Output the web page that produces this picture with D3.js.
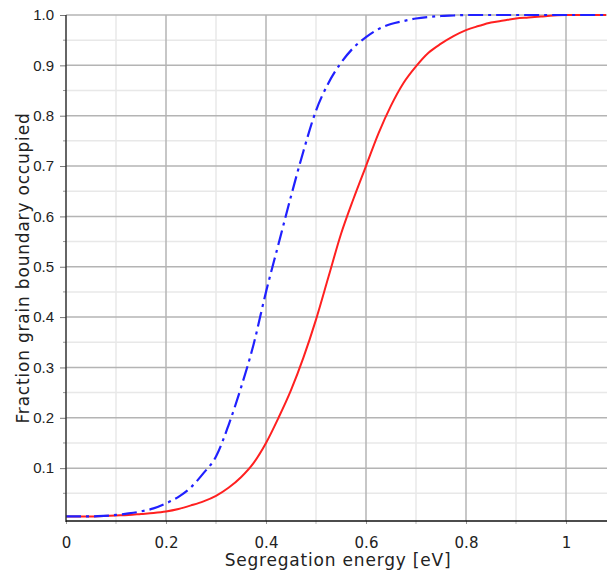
<!DOCTYPE html>
<html>
<head>
<meta charset="utf-8">
<script src="https://cdn.jsdelivr.net/npm/d3@7"></script>
<style>
  body { margin: 0; background: #fff; }
  svg { display: block; }
</style>
</head>
<body>
<svg id="chart" width="607" height="572"></svg>
<script>
// segregation energy (eV)
var energy = [0, 0.025, 0.05, 0.075, 0.1, 0.125, 0.15, 0.175, 0.2, 0.225, 0.25, 0.275, 0.3, 0.325,
  0.35, 0.375, 0.4, 0.425, 0.45, 0.475, 0.5, 0.525, 0.55, 0.575, 0.6, 0.625, 0.65, 0.675, 0.7,
  0.725, 0.75, 0.775, 0.8, 0.825, 0.85, 0.875, 0.9, 0.925, 0.95, 0.975, 1.0, 1.08];

// solid red curve
var redFrac = [0.004, 0.004, 0.004, 0.005, 0.006, 0.007, 0.009, 0.011, 0.014, 0.019, 0.026, 0.034,
  0.045, 0.061, 0.082, 0.11, 0.15, 0.20, 0.255, 0.32, 0.395, 0.48, 0.565, 0.635, 0.70, 0.765, 0.82,
  0.865, 0.898, 0.925, 0.943, 0.958, 0.97, 0.978, 0.985, 0.989, 0.993, 0.995, 0.997, 0.999, 1.0, 1.0];

// dash-dot blue curve
var blueFrac = [0.004, 0.004, 0.004, 0.005, 0.007, 0.010, 0.014, 0.020, 0.030, 0.043, 0.062, 0.09,
  0.123, 0.185, 0.26, 0.345, 0.45, 0.545, 0.64, 0.73, 0.81, 0.865, 0.905, 0.935, 0.956, 0.972, 0.982,
  0.988, 0.993, 0.996, 0.998, 0.999, 1.0, 1.0, 1.0, 1.0, 1.0, 1.0, 1.0, 1.0, 1.0, 1.0];

var xMajor = [0, 0.2, 0.4, 0.6, 0.8, 1.0];
var xMinor = [0.1, 0.3, 0.5, 0.7, 0.9];
var xLabels = ["0", "0.2", "0.4", "0.6", "0.8", "1"];
var yMajor = [0.1, 0.2, 0.3, 0.4, 0.5, 0.6, 0.7, 0.8, 0.9, 1.0];
var yMinor = [0.05, 0.15, 0.25, 0.35, 0.45, 0.55, 0.65, 0.75, 0.85, 0.95];

var svg = d3.select("#chart");
var pLeft = 66, pRight = 607, pTop = 15, pBottom = 521;

var x = d3.scaleLinear().domain([0, 1.082]).range([pLeft, pRight]);
var y = d3.scaleLinear().domain([-0.005, 1.0]).range([pBottom, pTop]);

// grid
svg.append("g").selectAll("line").data(xMinor).enter().append("line")
  .attr("x1", d => x(d)).attr("x2", d => x(d)).attr("y1", pTop).attr("y2", pBottom)
  .attr("stroke", "#e8e8e8").attr("stroke-width", 1.5);
svg.append("g").selectAll("line").data(yMinor).enter().append("line")
  .attr("x1", pLeft).attr("x2", pRight).attr("y1", d => y(d)).attr("y2", d => y(d))
  .attr("stroke", "#e8e8e8").attr("stroke-width", 1.5);
svg.append("g").selectAll("line").data(xMajor.slice(1)).enter().append("line")
  .attr("x1", d => x(d)).attr("x2", d => x(d)).attr("y1", pTop).attr("y2", pBottom)
  .attr("stroke", "#b4b4b4").attr("stroke-width", 1.5);
svg.append("g").selectAll("line").data(yMajor).enter().append("line")
  .attr("x1", pLeft).attr("x2", pRight).attr("y1", d => y(d)).attr("y2", d => y(d))
  .attr("stroke", "#b4b4b4").attr("stroke-width", 1.5);

// curves
svg.append("clipPath").attr("id", "clip").append("rect")
  .attr("x", pLeft).attr("y", pTop - 3).attr("width", pRight - pLeft).attr("height", pBottom - pTop + 3);

var line = d3.line().x(d => x(d[0])).y(d => y(d[1])).curve(d3.curveMonotoneX);

svg.append("path")
  .datum(d3.zip(energy, redFrac))
  .attr("clip-path", "url(#clip)")
  .attr("d", line)
  .attr("fill", "none").attr("stroke", "#ff2020").attr("stroke-width", 2);

svg.append("path")
  .datum(d3.zip(energy, blueFrac))
  .attr("clip-path", "url(#clip)")
  .attr("d", line)
  .attr("fill", "none").attr("stroke", "#2020ff").attr("stroke-width", 2.2)
  .attr("stroke-dasharray", "15,5,3,5");

// axes
var yAxis = d3.axisLeft(y).tickValues(yMajor).tickSize(6).tickPadding(6)
  .tickFormat(d3.format(".1f"));
var gy = svg.append("g").attr("transform", "translate(" + pLeft + ",0)").call(yAxis);
gy.select(".domain").remove();
gy.selectAll(".tick line").attr("stroke", "#777");
gy.selectAll("text").attr("font-family", "'Liberation Sans', Arial, sans-serif")
  .attr("font-size", "15px").attr("fill", "#222");
svg.append("g").selectAll("line").data(yMinor).enter().append("line")
  .attr("x1", pLeft - 3).attr("x2", pLeft).attr("y1", d => y(d)).attr("y2", d => y(d))
  .attr("stroke", "#999");

var xAxis = d3.axisBottom(x).tickValues(xMajor).tickSize(3).tickPadding(13)
  .tickFormat((d, i) => xLabels[i]);
var gx = svg.append("g").attr("transform", "translate(0," + pBottom + ")").call(xAxis);
gx.select(".domain").remove();
gx.selectAll(".tick line").attr("stroke", "#999");
gx.selectAll("text").attr("font-family", "'DejaVu Sans', sans-serif")
  .attr("font-size", "15px").attr("fill", "#222");
svg.append("g").selectAll("line").data(xMinor).enter().append("line")
  .attr("x1", d => x(d)).attr("x2", d => x(d)).attr("y1", pBottom).attr("y2", pBottom + 3)
  .attr("stroke", "#bbb");

svg.append("line").attr("x1", pLeft).attr("x2", pLeft).attr("y1", pTop).attr("y2", pBottom + 1)
  .attr("stroke", "#333").attr("stroke-width", 1.5);
svg.append("line").attr("x1", pLeft).attr("x2", pRight).attr("y1", pBottom).attr("y2", pBottom)
  .attr("stroke", "#111").attr("stroke-width", 1.5);

// titles
svg.append("text")
  .attr("x", 338).attr("y", 566)
  .attr("text-anchor", "middle")
  .attr("font-family", "'DejaVu Sans', sans-serif").attr("font-size", "17px")
  .attr("letter-spacing", "0.8px").attr("fill", "#222")
  .text("Segregation energy [eV]");

svg.append("text")
  .attr("transform", "translate(29," + ((pTop + pBottom) / 2) + ") rotate(-90)")
  .attr("text-anchor", "middle")
  .attr("font-family", "'DejaVu Sans', sans-serif").attr("font-size", "17px")
  .attr("letter-spacing", "0.8px").attr("fill", "#222")
  .text("Fraction grain boundary occupied");
</script>
</body>
</html>
